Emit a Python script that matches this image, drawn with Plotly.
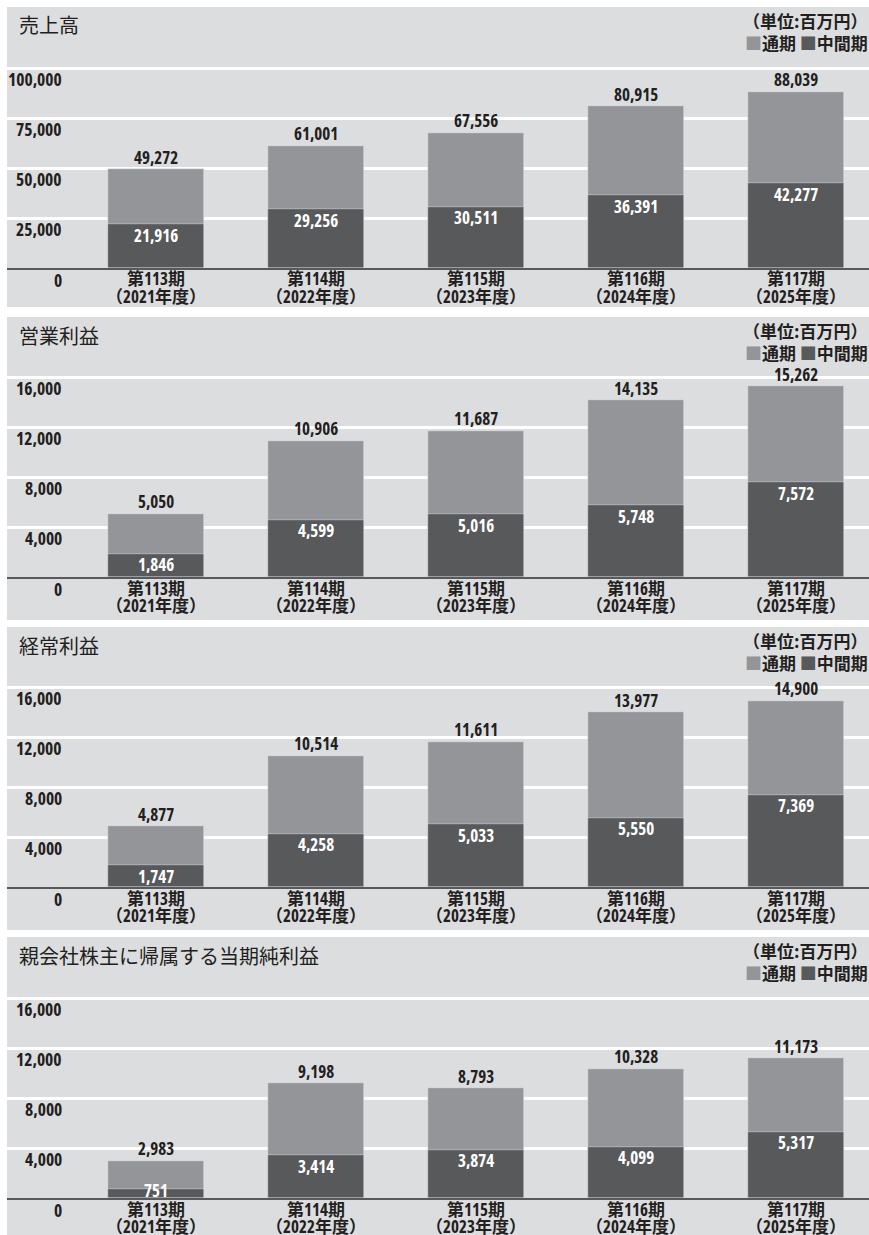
import plotly.graph_objects as go

W, H = 869, 1235

periods = ["第113期", "第114期", "第115期", "第116期", "第117期"]
years = ["（2021年度）", "（2022年度）", "（2023年度）", "（2024年度）", "（2025年度）"]

titles = ["売上高", "営業利益", "経常利益", "親会社株主に帰属する当期純利益"]

sales_full = [49272, 61001, 67556, 80915, 88039]
sales_half = [21916, 29256, 30511, 36391, 42277]
op_full = [5050, 10906, 11687, 14135, 15262]
op_half = [1846, 4599, 5016, 5748, 7572]
ord_full = [4877, 10514, 11611, 13977, 14900]
ord_half = [1747, 4258, 5033, 5550, 7369]
net_full = [2983, 9198, 8793, 10328, 11173]
net_half = [751, 3414, 3874, 4099, 5317]

ticks_sales = [0, 25000, 50000, 75000, 100000]
ticks_profit = [0, 4000, 8000, 12000, 16000]

panels = [
    (sales_full, sales_half, ticks_sales),
    (op_full, op_half, ticks_profit),
    (ord_full, ord_half, ticks_profit),
    (net_full, net_half, ticks_profit),
]

BG = "#dcdddf"
LIGHT = "#939598"
DARK = "#58595b"
TXT = "#231f20"
NUM_FONT = "Open Sans, Noto Sans CJK JP"
JP_FONT = "Noto Sans CJK JP"

panel_tops = [7, 317, 627, 937]
panel_bottoms = [307, 620, 930, 1240]
baselines = [268, 577, 887, 1198]
PLOT_H = 220  # pixel height of each plot area (top tick sits at 200px)


def py(p):
    return 1 - p / H


def cond(s):
    return f"<b><span style='font-stretch:condensed'>{s}</span></b>"


xs = list(range(len(periods)))
fig = go.Figure()
shapes = []
annotations = []
layout = {}

for k, (full, half, ticks) in enumerate(panels):
    n = "" if k == 0 else str(k + 1)
    xa, ya = "x" + n, "y" + n
    ymax = ticks[-1] * 1.1
    fig.add_trace(go.Bar(x=xs, y=full, marker_color=LIGHT, width=0.606,
                         xaxis=xa, yaxis=ya, showlegend=False, hoverinfo="skip"))
    fig.add_trace(go.Bar(x=xs, y=half, marker_color=DARK, width=0.606,
                         xaxis=xa, yaxis=ya, showlegend=False, hoverinfo="skip"))
    b = baselines[k]
    layout["xaxis" + n] = dict(domain=[7 / W, 1], range=[-0.93125, 4.45625],
                               showgrid=False, zeroline=False, showticklabels=False,
                               ticks="", showline=True, linecolor=DARK, linewidth=1.5,
                               anchor=ya, fixedrange=True)
    layout["yaxis" + n] = dict(domain=[py(b), py(b - PLOT_H)], range=[0, ymax],
                               tickvals=ticks, showticklabels=False, showgrid=True,
                               gridcolor="white", gridwidth=2.5, zeroline=False,
                               ticks="", anchor=xa, fixedrange=True)
    shapes.append(dict(type="rect", xref="paper", yref="paper", x0=7 / W, x1=1,
                       y0=py(panel_bottoms[k]), y1=py(panel_tops[k]),
                       fillcolor=BG, line_width=0, layer="below"))
    t = panel_tops[k]
    # title
    annotations.append(dict(text=titles[k], xref="paper", yref="paper", x=17 / W,
                            y=py(t + 18), xanchor="left", yanchor="middle", showarrow=False,
                            font=dict(family=JP_FONT, size=20, color=TXT)))
    # unit + legend
    annotations.append(dict(text="<b>（単位:百万円）</b>", xref="paper", yref="paper",
                            x=870 / W, y=py(t + 13), xanchor="right", yanchor="middle",
                            showarrow=False, font=dict(family=JP_FONT, size=17, color=TXT)))
    annotations.append(dict(text=f"<b><span style='color:{LIGHT}'>■</span>通期 "
                                 f"<span style='color:{DARK}'>■</span>中間期</b>",
                            xref="paper", yref="paper", x=870 / W, y=py(t + 35),
                            xanchor="right", yanchor="middle", showarrow=False,
                            font=dict(family=JP_FONT, size=17, color=TXT)))
    # y tick labels
    for v in ticks:
        annotations.append(dict(text=cond(f"{v:,}"), xref="paper", yref=ya, x=64 / W,
                                y=v, xanchor="right", yanchor="middle",
                                yshift=-12 if v == 0 else -11, showarrow=False,
                                font=dict(family=NUM_FONT, size=17.5, color=TXT)))
    # category labels
    for i in xs:
        annotations.append(dict(text=cond(periods[i]), xref=xa, yref="paper", x=i,
                                y=py(b + 11), xanchor="center", yanchor="middle",
                                showarrow=False,
                                font=dict(family=NUM_FONT, size=17, color=TXT)))
        annotations.append(dict(text=cond(years[i]), xref=xa, yref="paper", x=i,
                                y=py(b + 28), xanchor="center", yanchor="middle",
                                showarrow=False,
                                font=dict(family=NUM_FONT, size=17, color=TXT)))
        # value labels
        annotations.append(dict(text=cond(f"{full[i]:,}"), xref=xa, yref=ya, x=i,
                                y=full[i], yshift=12, xanchor="center", yanchor="middle",
                                showarrow=False,
                                font=dict(family=NUM_FONT, size=17, color=TXT)))
        bar_px = half[i] / ymax * PLOT_H
        shift = -min(11, bar_px - 7)
        annotations.append(dict(text=cond(f"{half[i]:,}"), xref=xa, yref=ya, x=i,
                                y=half[i], yshift=shift, xanchor="center", yanchor="middle",
                                showarrow=False,
                                font=dict(family=NUM_FONT, size=17, color="white")))

fig.update_layout(width=W, height=H, margin=dict(l=0, r=0, t=0, b=0),
                  paper_bgcolor="white", plot_bgcolor="rgba(0,0,0,0)",
                  barmode="overlay", bargap=0, shapes=shapes, annotations=annotations,
                  **layout)

fig.write_html("out.html")
